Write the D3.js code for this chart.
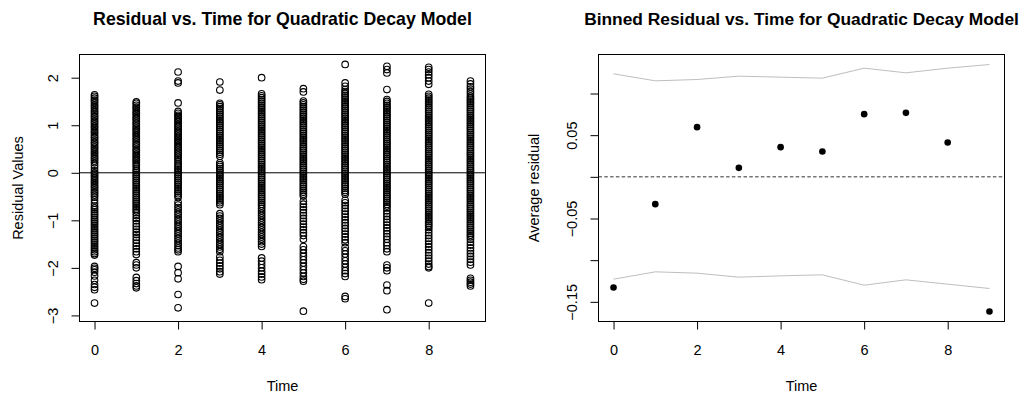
<!DOCTYPE html>
<html><head><meta charset="utf-8">
<script src="https://cdn.jsdelivr.net/npm/d3@7"></script>
<style>
body{margin:0;background:#fff}
svg{display:block}
text{font-family:"Liberation Sans",Arial,Helvetica,sans-serif;fill:#000}
</style>
</head><body><svg id="chart" width="1027" height="393"></svg>
<script>
// ---------- data ----------
const timeValues = [0,1,2,3,4,5,6,7,8,9];
const xTickValues = [0,2,4,6,8];
const leftYTicks = [-3,-2,-1,0,1,2];
const rightYTicks = [-0.15,-0.1,-0.05,0,0.05,0.1];
const rightYLabelled = [-0.15,-0.05,0.05];

const resT0 = [1.64,1.61,1.57,1.53,1.5,1.46,1.42,1.39,1.35,1.31,1.28,1.24,1.2,1.17,1.13,1.09,1.06,1.02,0.98,0.95,0.91,0.87,0.84,0.8,0.76,0.73,0.69,0.65,0.62,0.58,0.54,0.51,0.47,0.43,0.4,0.36,0.32,0.29,0.25,0.21,0.16,0.1,0.04,0.0,-0.03,-0.07,-0.1,-0.14,-0.18,-0.21,-0.25,-0.29,-0.32,-0.36,-0.4,-0.43,-0.47,-0.51,-0.57,-0.64,-0.7,-0.74,-0.78,-0.82,-0.86,-0.9,-0.94,-0.98,-1.02,-1.06,-1.1,-1.14,-1.18,-1.22,-1.26,-1.3,-1.34,-1.38,-1.42,-1.46,-1.5,-1.54,-1.58,-1.62,-1.66,-1.7,-1.73,-1.97,-2.01,-2.04,-2.09,-2.17,-2.26,-2.35,-2.41,-2.46,-2.74];
const resT1 = [1.49,1.46,1.42,1.38,1.35,1.31,1.27,1.24,1.2,1.16,1.13,1.09,1.05,1.02,0.98,0.94,0.91,0.87,0.83,0.8,0.76,0.72,0.69,0.65,0.61,0.58,0.54,0.5,0.47,0.43,0.39,0.36,0.32,0.28,0.25,0.21,0.17,0.13,0.08,0.04,0.0,-0.04,-0.08,-0.12,-0.16,-0.2,-0.24,-0.28,-0.32,-0.36,-0.4,-0.44,-0.48,-0.52,-0.56,-0.6,-0.64,-0.68,-0.72,-0.76,-0.8,-0.84,-0.9,-0.96,-1.01,-1.07,-1.13,-1.19,-1.25,-1.3,-1.36,-1.42,-1.48,-1.54,-1.6,-1.66,-1.72,-1.89,-1.94,-2.0,-2.2,-2.27,-2.33,-2.38,-2.42];
const resT2 = [2.12,1.93,1.89,1.47,1.29,1.25,1.21,1.18,1.14,1.1,1.07,1.03,0.99,0.96,0.92,0.88,0.85,0.81,0.77,0.74,0.7,0.66,0.63,0.59,0.55,0.52,0.48,0.44,0.41,0.37,0.33,0.29,0.25,0.2,0.16,0.12,0.08,0.04,0.0,-0.04,-0.08,-0.12,-0.16,-0.2,-0.24,-0.28,-0.32,-0.36,-0.4,-0.44,-0.48,-0.52,-0.62,-0.68,-0.73,-0.78,-0.83,-0.88,-0.93,-0.98,-1.03,-1.08,-1.13,-1.18,-1.23,-1.28,-1.33,-1.38,-1.43,-1.48,-1.53,-1.58,-1.62,-1.66,-1.97,-2.1,-2.23,-2.56,-2.84];
const resT3 = [1.91,1.74,1.46,1.43,1.39,1.35,1.31,1.27,1.23,1.19,1.15,1.11,1.07,1.03,0.99,0.95,0.91,0.87,0.83,0.79,0.75,0.71,0.67,0.63,0.59,0.55,0.51,0.47,0.43,0.39,0.35,0.21,0.17,0.13,0.09,0.05,0.01,-0.03,-0.07,-0.11,-0.15,-0.19,-0.23,-0.27,-0.31,-0.35,-0.39,-0.43,-0.47,-0.51,-0.55,-0.59,-0.63,-0.67,-0.86,-0.91,-0.96,-1.01,-1.06,-1.11,-1.16,-1.21,-1.26,-1.31,-1.36,-1.41,-1.46,-1.51,-1.56,-1.61,-1.66,-1.77,-1.84,-1.9,-1.96,-2.02,-2.08,-2.13];
const resT4 = [2.0,1.66,1.62,1.58,1.54,1.5,1.46,1.42,1.38,1.34,1.3,1.26,1.22,1.18,1.14,1.1,1.06,1.02,0.98,0.94,0.9,0.86,0.82,0.78,0.74,0.7,0.66,0.62,0.58,0.54,0.5,0.46,0.42,0.38,0.34,0.3,0.26,0.22,0.18,0.14,0.1,0.06,0.02,-0.02,-0.06,-0.1,-0.14,-0.18,-0.22,-0.26,-0.3,-0.34,-0.38,-0.42,-0.46,-0.5,-0.54,-0.58,-0.62,-0.66,-0.7,-0.75,-0.8,-0.85,-0.9,-0.95,-1.0,-1.05,-1.1,-1.15,-1.2,-1.25,-1.3,-1.35,-1.4,-1.45,-1.5,-1.55,-1.79,-1.86,-1.93,-2.0,-2.07,-2.13,-2.19,-2.25];
const resT5 = [1.77,1.7,1.51,1.47,1.43,1.39,1.35,1.31,1.27,1.23,1.19,1.15,1.11,1.07,1.03,0.99,0.95,0.91,0.87,0.83,0.79,0.75,0.71,0.67,0.63,0.59,0.55,0.51,0.47,0.43,0.39,0.35,0.31,0.27,0.23,0.19,0.15,0.11,0.07,0.03,-0.01,-0.05,-0.09,-0.13,-0.17,-0.21,-0.25,-0.29,-0.33,-0.37,-0.41,-0.45,-0.49,-0.6,-0.66,-0.72,-0.78,-0.84,-0.9,-0.96,-1.02,-1.08,-1.14,-1.2,-1.26,-1.32,-1.4,-1.55,-1.62,-1.69,-1.76,-1.83,-1.9,-1.97,-2.04,-2.11,-2.18,-2.24,-2.28,-2.91];
const resT6 = [2.28,1.89,1.82,1.75,1.71,1.67,1.63,1.59,1.55,1.51,1.47,1.43,1.39,1.35,1.31,1.27,1.23,1.19,1.15,1.11,1.07,1.03,0.99,0.95,0.91,0.87,0.83,0.79,0.75,0.71,0.67,0.63,0.59,0.55,0.51,0.47,0.43,0.39,0.35,0.31,0.27,0.23,0.19,0.15,0.11,0.07,0.03,-0.01,-0.05,-0.09,-0.13,-0.17,-0.21,-0.25,-0.29,-0.33,-0.37,-0.41,-0.45,-0.58,-0.63,-0.69,-0.75,-0.81,-0.87,-0.93,-0.99,-1.05,-1.11,-1.17,-1.23,-1.29,-1.35,-1.41,-1.47,-1.57,-1.64,-1.71,-1.78,-1.85,-1.92,-1.99,-2.06,-2.12,-2.18,-2.6,-2.65];
const resT7 = [2.24,2.17,2.1,1.75,1.54,1.5,1.46,1.42,1.38,1.34,1.3,1.26,1.22,1.18,1.14,1.1,1.06,1.02,0.98,0.94,0.9,0.86,0.82,0.78,0.74,0.7,0.66,0.62,0.58,0.54,0.5,0.46,0.42,0.38,0.34,0.3,0.26,0.22,0.18,0.14,0.1,0.06,0.02,-0.02,-0.06,-0.1,-0.14,-0.18,-0.22,-0.26,-0.3,-0.34,-0.38,-0.42,-0.46,-0.5,-0.54,-0.58,-0.62,-0.66,-0.7,-0.74,-0.8,-0.86,-0.92,-0.98,-1.04,-1.1,-1.16,-1.22,-1.28,-1.34,-1.4,-1.47,-1.53,-1.6,-1.66,-1.94,-2.0,-2.06,-2.36,-2.48,-2.88];
const resT8 = [2.22,2.17,2.12,2.06,2.0,1.93,1.86,1.65,1.61,1.57,1.53,1.49,1.45,1.41,1.37,1.33,1.29,1.25,1.21,1.17,1.13,1.09,1.05,1.01,0.97,0.93,0.89,0.85,0.81,0.77,0.73,0.69,0.65,0.61,0.57,0.53,0.49,0.45,0.41,0.37,0.33,0.29,0.25,0.21,0.17,0.13,0.09,0.05,0.01,-0.03,-0.07,-0.11,-0.15,-0.19,-0.23,-0.27,-0.31,-0.35,-0.39,-0.43,-0.47,-0.51,-0.55,-0.59,-0.63,-0.67,-0.71,-0.75,-0.79,-0.83,-0.87,-0.91,-0.95,-0.99,-1.03,-1.07,-1.11,-1.15,-1.2,-1.26,-1.32,-1.38,-1.44,-1.5,-1.56,-1.62,-1.68,-1.74,-1.8,-1.86,-1.92,-1.97,-2.0,-2.74];
const resT9 = [1.93,1.87,1.81,1.76,1.71,1.66,1.61,1.57,1.53,1.49,1.45,1.41,1.37,1.33,1.29,1.25,1.21,1.17,1.13,1.09,1.05,1.01,0.97,0.93,0.89,0.85,0.81,0.77,0.73,0.69,0.65,0.61,0.57,0.53,0.49,0.45,0.41,0.37,0.33,0.29,0.25,0.21,0.17,0.13,0.09,0.05,0.01,-0.03,-0.07,-0.11,-0.15,-0.19,-0.23,-0.27,-0.31,-0.35,-0.39,-0.43,-0.47,-0.51,-0.55,-0.59,-0.63,-0.67,-0.71,-0.75,-0.79,-0.83,-0.87,-0.91,-0.95,-0.99,-1.03,-1.07,-1.11,-1.15,-1.19,-1.23,-1.27,-1.31,-1.35,-1.4,-1.46,-1.52,-1.58,-1.64,-1.7,-1.76,-1.82,-1.88,-1.94,-2.22,-2.26,-2.3,-2.34,-2.38];
const residualsByTime = [resT0,resT1,resT2,resT3,resT4,resT5,resT6,resT7,resT8,resT9];

const binAverage = [-0.1328,-0.0328,0.0596,0.0108,0.0356,0.0304,0.0752,0.0768,0.0412,-0.1616];
const binUpper = [0.1236,0.1152,0.1168,0.1208,0.1196,0.1184,0.1304,0.1248,0.1304,0.1348];
const binLower = [-0.1228,-0.114,-0.1156,-0.1204,-0.1188,-0.1176,-0.13,-0.1236,-0.1288,-0.134];

const titleLeft = "Residual vs. Time for Quadratic Decay Model";
const titleRight = "Binned Residual vs. Time for Quadratic Decay Model";
const xLabel = "Time";
const yLabelLeft = "Residual Values";
const yLabelRight = "Average residual";

// ---------- layout ----------
const svg = d3.select("#chart");
const L = {x0:79.5, x1:485.5, y0:54.5, y1:321.5};
const R = {x0:598.5, x1:1004.5, y0:54.5, y1:321.5};
const tickFont = "14.5px";
const minus = s => s.replace("-", "\u2212");

const xL = d3.scaleLinear().domain([-0.36, 9.36]).range([L.x0, L.x1]);
const yL = d3.scaleLinear().domain([-3.128, 2.488]).range([L.y1, L.y0]);
const xR = d3.scaleLinear().domain([-0.36, 9.36]).range([R.x0, R.x1]);
const yR = d3.scaleLinear().domain([-0.1736, 0.1468]).range([R.y1, R.y0]);

function drawXAxis(x, P) {
  const g = svg.append("g").attr("transform", `translate(0,${P.y1})`)
    .call(d3.axisBottom(x).tickValues(xTickValues).tickSize(8).tickPadding(15).tickFormat(d3.format("d")));
  g.select(".domain").remove();
  g.selectAll(".tick line").attr("stroke", "#000");
  g.selectAll("text").style("font-size", tickFont);
}
function drawYAxis(y, P, ticks, fmt, labelled) {
  const g = svg.append("g").attr("transform", `translate(${P.x0},0)`)
    .call(d3.axisLeft(y).tickValues(ticks).tickSize(8).tickFormat(fmt));
  g.select(".domain").remove();
  g.selectAll(".tick line").attr("stroke", "#000");
  g.selectAll(".tick text")
    .attr("x", null).attr("dy", null)
    .attr("text-anchor", "middle")
    .attr("transform", "translate(-22,0) rotate(-90)")
    .style("font-size", tickFont)
    .text(d => (labelled && !labelled.some(v => Math.abs(v - d) < 1e-9)) ? "" : minus(fmt(d)));
  svg.append("line").attr("x1", P.x0).attr("x2", P.x0)
    .attr("y1", y(d3.min(ticks))).attr("y2", y(d3.max(ticks))).attr("stroke", "#000");
}
function drawFrame(P, title, ylab, ylabX) {
  svg.append("rect").attr("x", P.x0).attr("y", P.y0)
    .attr("width", P.x1 - P.x0).attr("height", P.y1 - P.y0)
    .attr("fill", "none").attr("stroke", "#000").attr("stroke-width", 1);
  const cx = (P.x0 + P.x1) / 2, cy = (P.y0 + P.y1) / 2;
  svg.append("text").attr("x", cx).attr("y", 391).attr("text-anchor", "middle")
    .style("font-size", "14.5px").text(xLabel);
  svg.append("text").attr("transform", `translate(${ylabX},${cy}) rotate(-90)`)
    .attr("text-anchor", "middle").style("font-size", "14.5px").text(ylab);
  return svg.append("text").attr("x", cx).attr("y", 25).attr("text-anchor", "middle")
    .style("font-size", "17px").style("font-weight", "bold").text(title);
}
function fitWidth(sel, w) {
  const len = sel.node().getComputedTextLength();
  const fs = parseFloat(sel.style("font-size"));
  sel.style("font-size", (fs * w / len).toFixed(2) + "px");
}

// ---------- left panel ----------
const tL = drawFrame(L, titleLeft, yLabelLeft, 23);
fitWidth(tL, 379);
drawXAxis(xL, L);
drawYAxis(yL, L, leftYTicks, d3.format("d"), null);

svg.append("line").attr("x1", L.x0).attr("x2", L.x1)
  .attr("y1", yL(0)).attr("y2", yL(0)).attr("stroke", "#000");

const scatterPts = [];
residualsByTime.forEach((arr, i) => arr.forEach(v => scatterPts.push({t: timeValues[i], r: v})));
svg.append("g").selectAll("circle").data(scatterPts).join("circle")
  .attr("cx", d => xL(d.t)).attr("cy", d => yL(d.r)).attr("r", 3.3)
  .attr("fill", "none").attr("stroke", "#000").attr("stroke-width", 1.1);

// ---------- right panel ----------
const tR = drawFrame(R, titleRight, yLabelRight, 538.5);
fitWidth(tR, 435);
drawXAxis(xR, R);
drawYAxis(yR, R, rightYTicks, d3.format(".2~f"), rightYLabelled);

svg.append("line").attr("x1", R.x0).attr("x2", R.x1)
  .attr("y1", yR(0)).attr("y2", yR(0))
  .attr("stroke", "#333").attr("stroke-dasharray", "3.5,2.3");

const lineGen = (arr) => d3.line().x((d, i) => xR(timeValues[i])).y(d => yR(d))(arr);
svg.append("path").attr("d", lineGen(binUpper)).attr("fill", "none").attr("stroke", "#bebebe");
svg.append("path").attr("d", lineGen(binLower)).attr("fill", "none").attr("stroke", "#bebebe");

svg.append("g").selectAll("circle").data(binAverage).join("circle")
  .attr("cx", (d, i) => xR(timeValues[i])).attr("cy", d => yR(d)).attr("r", 3.3)
  .attr("fill", "#000");
</script>
</body></html>
